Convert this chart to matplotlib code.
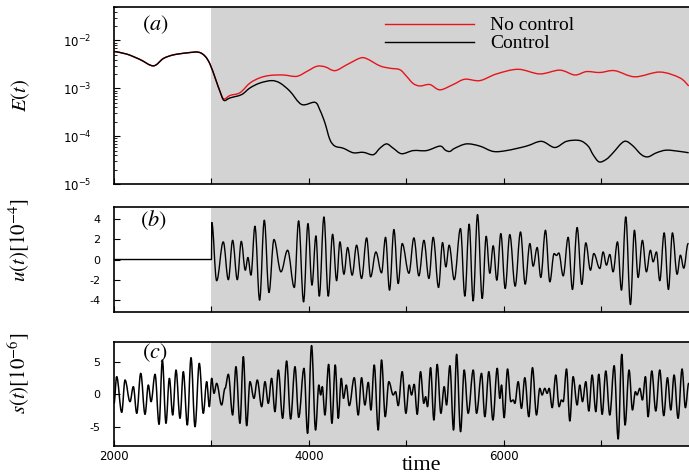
import math
import matplotlib
matplotlib.use("Agg")
import matplotlib.pyplot as plt
from matplotlib.lines import Line2D
from matplotlib.path import Path
from matplotlib.patches import PathPatch
from matplotlib.ticker import LogLocator, NullFormatter

plt.rcParams['axes.unicode_minus'] = False
plt.rcParams['mathtext.fontset'] = 'dejavusans'

# ---------------- data ----------------
# E(t): no control (red) and control (black)
E_nc_t = [2000, 2130, 2267, 2404, 2506, 2609, 2746, 2865, 2934, 2985, 3040, 3088,
          3128, 3190, 3292, 3395, 3497, 3600, 3737, 3874, 3976, 4079, 4164, 4267,
          4386, 4523, 4592, 4728, 4831, 4933, 5002, 5070, 5139, 5241, 5344, 5480,
          5600, 5754, 5925, 6147, 6369, 6574, 6728, 6848, 6985, 7138, 7344, 7600,
          7805, 7897]
E_nc = [5.9e-3, 5.2e-3, 4.0e-3, 2.95e-3, 4.2e-3, 5.0e-3, 5.5e-3, 5.7e-3, 4.7e-3,
        3.2e-3, 1.6e-3, 8.5e-4,
        6.0e-4, 7.1e-4, 8.1e-4, 1.29e-3, 1.66e-3, 1.86e-3, 1.9e-3, 1.78e-3,
        2.24e-3, 2.88e-3, 2.82e-3, 2.34e-3, 3.09e-3, 4.27e-3, 4.17e-3, 2.95e-3,
        2.63e-3, 2.45e-3, 1.78e-3, 1.26e-3, 1.12e-3, 1.2e-3, 9.3e-4, 1.2e-3,
        1.55e-3, 1.45e-3, 2.0e-3, 2.5e-3, 2.0e-3, 2.4e-3, 1.9e-3, 2.24e-3,
        2.14e-3, 2.34e-3, 1.74e-3, 2.19e-3, 1.66e-3, 1.12e-3]

E_c_t = [2000, 2130, 2267, 2404, 2506, 2609, 2746, 2865, 2934, 2985, 3040, 3088,
         3128, 3190, 3309, 3395, 3497, 3617, 3703, 3805, 3925, 4062, 4113, 4164,
         4215, 4267, 4352, 4455, 4557, 4660, 4728, 4797, 4865, 4951, 5070, 5207,
         5344, 5400, 5446, 5497, 5617, 5754, 5890, 6027, 6232, 6386, 6523, 6643,
         6779, 6865, 6916, 6978, 7053, 7121, 7207, 7258, 7327, 7412, 7480, 7566,
         7668, 7805, 7897]
E_c = [5.9e-3, 5.2e-3, 4.0e-3, 2.95e-3, 4.2e-3, 5.0e-3, 5.5e-3, 5.7e-3, 4.7e-3,
       3.2e-3, 1.6e-3, 8.5e-4,
       5.6e-4, 6.3e-4, 7.4e-4, 1.02e-3, 1.29e-3, 1.45e-3, 1.29e-3, 8.7e-4,
       4.6e-4, 5.1e-4, 3.5e-4, 1.9e-4, 8.5e-5, 6.2e-5, 5.6e-5, 4.5e-5, 4.6e-5,
       4.1e-5, 5.6e-5, 6.9e-5, 5.6e-5, 4.3e-5, 5.0e-5, 5.0e-5, 6.2e-5, 5.1e-5,
       4.8e-5, 5.6e-5, 6.9e-5, 6.2e-5, 4.8e-5, 5.0e-5, 6.2e-5, 7.8e-5, 5.8e-5,
       7.8e-5, 8.1e-5, 6.2e-5, 4.1e-5, 2.9e-5, 3.3e-5, 4.5e-5, 7.1e-5, 7.8e-5,
       6.2e-5, 4.1e-5, 3.7e-5, 4.5e-5, 5.1e-5, 4.8e-5, 4.5e-5]

# u(t) [1e-4]: zero before control, then local extrema
u_t = [2000, 3000, 3003, 3053, 3121, 3173, 3217, 3265, 3306, 3347, 3374, 3405,
       3446, 3494, 3542, 3590, 3641, 3713, 3781, 3850, 3894, 3945, 3990, 4031,
       4072, 4106, 4154, 4198, 4243, 4284, 4318, 4359, 4397, 4444, 4489, 4540,
       4592, 4633, 4687, 4745, 4786, 4827, 4872, 4916, 4957, 5026, 5077, 5128,
       5180, 5231, 5275, 5330, 5371, 5405, 5439, 5491, 5555, 5600, 5644, 5685,
       5730, 5778, 5819, 5856, 5891, 5928, 5969, 6014, 6061, 6116, 6171, 6219,
       6267, 6301, 6342, 6379, 6427, 6472, 6516, 6540, 6564, 6609, 6660, 6704,
       6752, 6800, 6841, 6889, 6923, 6985, 7019, 7053, 7087, 7121, 7166, 7207,
       7251, 7299, 7340, 7378, 7422, 7463, 7504, 7532, 7566, 7600, 7645, 7689,
       7730, 7778, 7812, 7846, 7891]
u_v = [0, 0, 3.66, -2.1, 1.75, -2.0, 1.9, -2.0, 1.8, -1.06, 0.2, -1.55,
       3.3, -4.03, 3.89, -3.27, 1.98, -1.22, 0.92, -2.77, 3.83, -4.2, 3.56, -2.54,
       2.34, -3.63, 4.22, -3.63, 2.5, -2.1, 1.75, -1.46, 1.19, -1.55, 1.42, -1.88,
       2.14, -1.72, 0.75, -1.32, 2.2, -3.04, 2.97, -2.38, 1.58, -1.36, 2.14, -1.62,
       1.9, -1.88, 2.2, -2.77, 1.68, -0.73, 1.42, -2.0, 3.07, -3.63, 3.5, -4.1,
       4.45, -3.86, 2.3, -1.36, 1.36, -2.05, 2.57, -2.87, 2.47, -2.64, 2.73, -2.44,
       1.58, -0.66, 1.19, -1.78, 2.9, -2.21, 0.59, 0.4, 0.65, -1.62, 2.2, -2.97,
       3.17, -2.47, 1.65, -1.06, 0.59, -0.89, 0.75, -0.56, 0.5, -1.22, 1.75, -3.04,
       4.22, -4.46, 2.9, -1.78, 1.9, -1.22, 0.92, -0.23, 0.75, -2.1, 2.64, -2.97,
       2.64, -1.46, 0.43, -0.86, 1.58]

# s(t) [1e-6]: local extrema
s_t = [2000, 2027, 2079, 2113, 2164, 2198, 2233, 2274, 2318, 2352, 2380, 2421,
       2462, 2496, 2533, 2568, 2602, 2636, 2677, 2711, 2752, 2790, 2831, 2875,
       2916, 2951, 2978, 3002, 3026, 3053, 3104, 3139, 3173, 3217, 3251, 3292,
       3327, 3361, 3395, 3436, 3470, 3515, 3549, 3583, 3617, 3651, 3686, 3730,
       3771, 3812, 3857, 3895, 3949, 3986, 4027, 4068, 4102, 4120, 4137, 4164,
       4202, 4236, 4270, 4301, 4332, 4355, 4383, 4414, 4465, 4506, 4540, 4574,
       4609, 4636, 4670, 4711, 4745, 4783, 4820, 4865, 4889, 4916, 4957, 4995,
       5029, 5053, 5080, 5111, 5145, 5179, 5197, 5217, 5248, 5282, 5316, 5354,
       5388, 5412, 5446, 5484, 5515, 5556, 5593, 5634, 5686, 5720, 5771, 5805,
       5846, 5888, 5932, 5959, 5976, 6003, 6038, 6072, 6096, 6113, 6147, 6181,
       6215, 6256, 6294, 6335, 6369, 6393, 6420, 6444, 6465, 6496, 6533, 6567,
       6591, 6609, 6643, 6677, 6711, 6752, 6779, 6807, 6841, 6872, 6906, 6944,
       6974, 7009, 7046, 7087, 7132, 7173, 7210, 7244, 7285, 7320, 7350, 7367,
       7395, 7422, 7453, 7480, 7518, 7559, 7600, 7641, 7679, 7713, 7747, 7788,
       7829, 7863, 7897]
s_v = [-1.44, 2.67, -2.82, 2.15, -1.18, 1.13, -2.97, 3.18, -3.13, 1.38, -1.18, 3.03,
       -4.67, 5.23, -4.51, 2.41, -3.23, 3.69, -3.74, 3.44, -4.77, 5.59, -5.03, 4.72,
       -2.97, 1.9, -1.95, 2.41, 0.1, 1.64, -1.69, 0.87, 3.03, -3.23, 4.21, -4.51,
       5.74, -4.87, 1.9, -0.67, 2.15, -1.95, 1.9, -1.44, 2.41, -2.72, 3.69, -3.74,
       5.08, -3.85, 4.21, -3.6, 3.95, -6.05, 7.44, -5.54, 1.38, -0.15, 1.13, -3.23,
       4.56, -4.51, 4.46, -3.74, 2.41, -0.67, 1.38, -1.79, 2.51, -3.23, 2.51, -1.69,
       1.79, -2.46, 4.46, -5.54, 5.23, -3.49, 1.9, -0.15, 0.36, -1.79, 3.44, -2.97,
       1.38, -0.15, 1.49, -3.13, 3.44, -1.44, -0.41, -1.95, 4.05, -4.0, 4.56, -2.97,
       1.13, -1.69, 4.36, -5.54, 6.1, -5.79, 3.69, -2.97, 3.69, -2.97, 3.18, -3.49,
       3.44, -4.0, 3.95, -0.67, 1.38, -3.64, 3.85, -1.18, -0.92, -1.44, 1.9, -2.21,
       2.51, -3.49, 4.05, -3.23, 0.87, -0.15, 0.87, 0.1, 0.87, -2.1, 2.92, -1.95,
       -0.92, -1.18, 3.85, -4.15, 2.67, -1.69, 1.38, -1.18, 1.9, -2.62, 2.92, -2.72,
       3.03, -3.13, 3.54, -3.23, 4.36, -6.92, 6.1, -4.77, 3.69, -2.46, 0.36, -0.15,
       0.87, -0.92, 2.67, -3.49, 3.54, -2.62, 3.69, -3.33, 2.51, -2.46, 2.92, -3.74,
       3.85, -2.1, 1.64]

control_start = 3000
x_range = (2000, 7900)
x_ticks = [2000, 3000, 4000, 5000, 6000, 7000]
x_ticklabels = ['2000', '', '4000', '', '6000', '']
E_ticks = [1e-5, 1e-4, 1e-3, 1e-2]
E_ticklabels = [r'$10^{-5}$', r'$10^{-4}$', r'$10^{-3}$', r'$10^{-2}$']
u_ticks = [-4, -2, 0, 2, 4]
s_ticks = [-5, 0, 5]


def smooth_extrema_path(ts, vs):
    """Path through the extrema with horizontal tangents (Bezier line style)."""
    verts = [(ts[0], vs[0])]
    codes = [Path.MOVETO]
    for i in range(1, len(ts)):
        t0, v0, t1, v1 = ts[i - 1], vs[i - 1], ts[i], vs[i]
        dt = (t1 - t0) * 0.3642
        verts += [(t0 + dt, v0), (t1 - dt, v1), (t1, v1)]
        codes += [Path.CURVE4] * 3
    return Path(verts, codes)


def smooth_log_path(ts, es):
    """Catmull-Rom style Bezier path through samples, smoothed in log space."""
    ls = [math.log10(e) for e in es]
    n = len(ts)
    verts = [(ts[0], es[0])]
    codes = [Path.MOVETO]
    for i in range(n - 1):
        p0 = max(i - 1, 0)
        p3 = min(i + 2, n - 1)
        c1t = ts[i] + (ts[i + 1] - ts[p0]) / 6.0
        c1l = ls[i] + (ls[i + 1] - ls[p0]) / 6.0
        c2t = ts[i + 1] - (ts[p3] - ts[i]) / 6.0
        c2l = ls[i + 1] - (ls[p3] - ls[i]) / 6.0
        verts += [(c1t, 10 ** c1l), (c2t, 10 ** c2l), (ts[i + 1], es[i + 1])]
        codes += [Path.CURVE4] * 3
    return Path(verts, codes)


# ---------------- figure ----------------
fig = plt.figure(figsize=(6.89, 4.76), dpi=100)
L, W = 0.1655, 0.8345
axa = fig.add_axes([L, 0.6134, W, 0.3718])
axb = fig.add_axes([L, 0.3445, W, 0.2206])
axc = fig.add_axes([L, 0.063, W, 0.2185])

shade = '#d3d3d3'
serif = 'Liberation Serif'
red = '#e8131b'

for ax in (axa, axb, axc):
    ax.set_xlim(*x_range)
    ax.axvspan(control_start, x_range[1], color=shade, lw=0, zorder=0)
    ax.spines['right'].set_visible(False)
    for s in ('left', 'bottom', 'top'):
        ax.spines[s].set_linewidth(1.2)
    ax.set_xticks(x_ticks)
    ax.tick_params(axis='both', which='both', direction='in', top=False, right=False)
    ax.tick_params(axis='both', which='major', length=4, width=0.8)
    ax.tick_params(axis='both', which='minor', length=2.5, width=0.6)
    ax.set_xticklabels([])

# (a)
axa.set_yscale('log')
axa.set_ylim(1e-5, 5e-2)
axa.add_patch(PathPatch(smooth_log_path(E_nc_t, E_nc), fill=False, edgecolor=red,
                        lw=1.0, zorder=2, joinstyle='round'))
axa.add_patch(PathPatch(smooth_log_path(E_c_t, E_c), fill=False, edgecolor='black',
                        lw=1.0, zorder=3, joinstyle='round'))
axa.set_yticks(E_ticks)
axa.set_yticklabels(E_ticklabels)
axa.yaxis.set_minor_locator(LogLocator(base=10, subs=range(2, 10), numticks=20))
axa.yaxis.set_minor_formatter(NullFormatter())
axa.tick_params(axis='y', which='major', labelsize=8.5, pad=16)
handles = [Line2D([], [], color=red, lw=1.0), Line2D([], [], color='black', lw=1.0)]
axa.legend(handles, ['No control', 'Control'], loc='upper left',
           bbox_to_anchor=(0.4713, 0.945), frameon=False,
           prop={'family': serif, 'size': 14}, handlelength=4.6,
           handletextpad=0.8, labelspacing=0.02, borderpad=0, borderaxespad=0)

# (b)
axb.add_patch(PathPatch(smooth_extrema_path(u_t, u_v), fill=False, edgecolor='black',
                        lw=1.0, zorder=2, joinstyle='round', capstyle='round'))
axb.set_ylim(-5.2, 5.2)
axb.set_yticks(u_ticks)
axb.set_yticklabels([str(v) for v in u_ticks])
axb.tick_params(axis='y', labelsize=8, pad=10)

# (c)
axc.add_patch(PathPatch(smooth_extrema_path(s_t, s_v), fill=False, edgecolor='black',
                        lw=1.1, zorder=2, joinstyle='round', capstyle='round'))
axc.set_ylim(-8, 8)
axc.set_yticks(s_ticks)
axc.set_yticklabels([str(v) for v in s_ticks])
axc.tick_params(axis='y', labelsize=8, pad=10)
axc.set_xticklabels(x_ticklabels)
axc.tick_params(axis='x', labelsize=8.5, pad=3)

# labels
axa.set_ylabel(r'$E(t)$', fontsize=15, math_fontfamily='stix')
axa.yaxis.set_label_coords(-0.142, 0.5)
axb.set_ylabel(r'$u(t)[10^{-4}]$', fontsize=15, math_fontfamily='stix')
axb.yaxis.set_label_coords(-0.143, 0.686)
axc.set_ylabel(r'$s(t)[10^{-6}]$', fontsize=15, math_fontfamily='stix')
axc.yaxis.set_label_coords(-0.143, 0.70)
axc.set_xlabel('time', fontsize=16, family=serif)
axc.xaxis.set_label_coords((422 - 114) / 575, -0.095)

axa.text(0.0713, 0.898, r'$(a)$', transform=axa.transAxes, fontsize=16,
         math_fontfamily='stix', ha='center', va='center')
axb.text(0.068, 0.876, r'$(b)$', transform=axb.transAxes, fontsize=16,
         math_fontfamily='stix', ha='center', va='center')
axc.text(0.071, 0.894, r'$(c)$', transform=axc.transAxes, fontsize=16,
         math_fontfamily='stix', ha='center', va='center')

fig.savefig('out.png', dpi=100)
